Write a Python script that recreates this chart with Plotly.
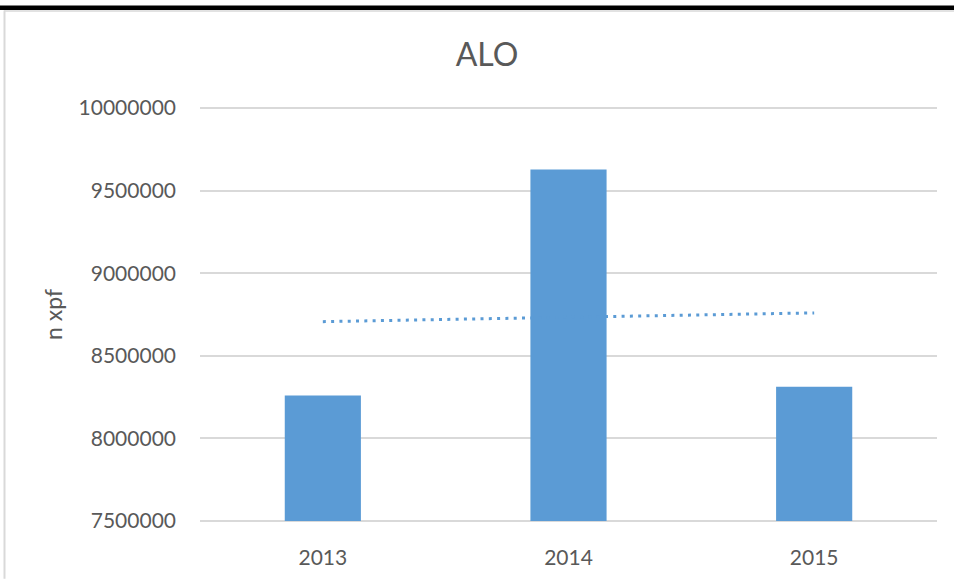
import numpy as np
import plotly.graph_objects as go

years = ["2013", "2014", "2015"]
values = [8260000, 9627000, 8313000]
y_ticks = [7500000, 8000000, 8500000, 9000000, 9500000, 10000000]
title_text = "ALO"
y_title = "n xpf"

# linear trendline (Excel-style) from the data
xi = np.arange(len(values))
slope, intercept = np.polyfit(xi, values, 1)
trend = [slope * i + intercept for i in xi]

FONT = "Lato, Carlito, 'Liberation Sans', sans-serif"
GREY = "#595959"
BLUE = "#5B9BD5"

y_lo, y_hi = y_ticks[0], y_ticks[-1]

fig = go.Figure()
fig.add_trace(go.Bar(x=years, y=[v - y_lo for v in values], base=y_lo,
                     customdata=values, hovertemplate="%{x}: %{customdata}<extra></extra>",
                     marker=dict(color=BLUE, line=dict(width=0)),
                     showlegend=False))
fig.add_trace(go.Scatter(x=years, y=trend, mode="lines",
                         line=dict(color=BLUE, width=3, dash="3px,5.3px"),
                         showlegend=False, hoverinfo="skip"))

W, H = 954, 581
L, R, T, B = 200, 17, 106, 56
pw, ph = W - L - R, H - T - B
# 2 px of padding at each end so that edge gridlines are drawn
pad = (y_hi - y_lo) * 2 / (ph - 4)

def px_x(p):
    return (p - L) / pw

def px_y(p):
    return (H - B - p) / ph

fig.update_layout(
    width=W, height=H,
    margin=dict(l=L, r=R, t=T, b=B, pad=0),
    paper_bgcolor="white", plot_bgcolor="white",
    bargap=0.69,
    font=dict(family=FONT, color=GREY, size=21),
    title=dict(text=title_text, x=487 / W, xref="container", xanchor="center",
               y=1 - 55 / H, yref="container", yanchor="middle",
               font=dict(family=FONT, size=32, color=GREY)),
    xaxis=dict(showgrid=False, showline=False, zeroline=False,
               tickfont=dict(family=FONT, size=21, color=GREY),
               ticks="", ticklabelstandoff=20),
    yaxis=dict(range=[y_lo - pad, y_hi + pad], tickvals=y_ticks,
               ticktext=[str(v) for v in y_ticks],
               showgrid=True, gridcolor="#D9D9D9", gridwidth=1.5,
               zeroline=False, showline=False, ticks="",
               tickfont=dict(family=FONT, size=21, color=GREY),
               ticklabelstandoff=23,
               title=dict(text=y_title, standoff=9,
                          font=dict(family=FONT, size=23, color=GREY))),
    shapes=[
        dict(type="line", xref="paper", yref="paper",
             x0=px_x(0), x1=px_x(W), y0=px_y(7.3), y1=px_y(7.3),
             line=dict(color="black", width=4.7)),
        dict(type="line", xref="paper", yref="paper",
             x0=px_x(4), x1=px_x(W), y0=px_y(10.5), y1=px_y(10.5),
             line=dict(color="#D9D9D9", width=1.5)),
        dict(type="line", xref="paper", yref="paper",
             x0=px_x(4.5), x1=px_x(4.5), y0=px_y(10), y1=px_y(H),
             line=dict(color="#D9D9D9", width=2)),
    ],
)

fig.write_html("out.html", config={"displayModeBar": False},
               post_script="document.body.style.margin='0px';")
